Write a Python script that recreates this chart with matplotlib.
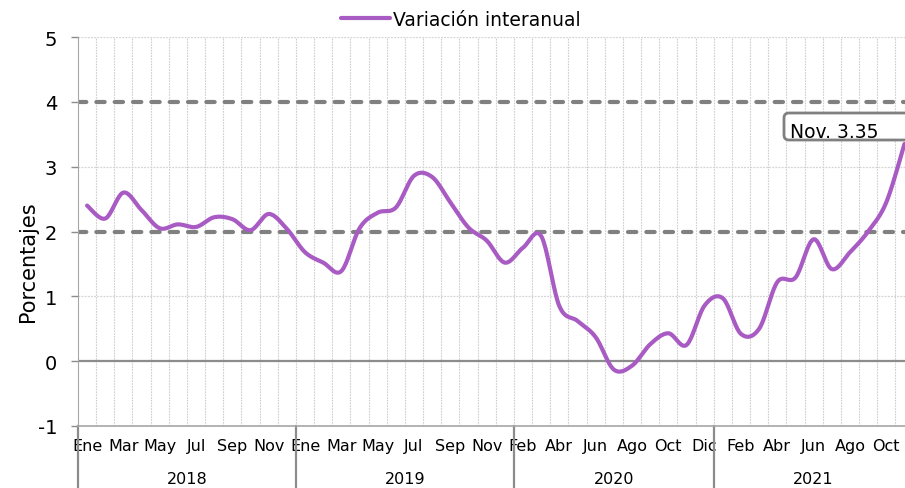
import numpy as np
import matplotlib
matplotlib.use("Agg")
import matplotlib.pyplot as plt
from matplotlib.patches import FancyBboxPatch
from matplotlib.transforms import blended_transform_factory

plt.rcParams['font.family'] = ['DejaVu Sans']

# meses por grupo (2020 empieza en Feb en la serie original)
meses_2018 = ["Ene", "Feb", "Mar", "Abr", "May", "Jun", "Jul", "Ago", "Sep", "Oct", "Nov", "Dic"]
meses_2019 = ["Ene", "Feb", "Mar", "Abr", "May", "Jun", "Jul", "Ago", "Sep", "Oct", "Nov", "Dic"]
meses_2020 = ["Feb", "Mar", "Abr", "May", "Jun", "Jul", "Ago", "Sep", "Oct", "Nov", "Dic"]
meses_2021 = ["Ene", "Feb", "Mar", "Abr", "May", "Jun", "Jul", "Ago", "Sep", "Oct", "Nov"]
anios = ["2018", "2019", "2020", "2021"]

var_2018 = [2.40, 2.20, 2.60, 2.33, 2.05, 2.11, 2.07, 2.22, 2.19, 2.02, 2.27, 2.04]
var_2019 = [1.68, 1.52, 1.39, 2.05, 2.29, 2.37, 2.86, 2.84, 2.45, 2.06, 1.86, 1.52]
var_2020 = [1.75, 1.93, 0.85, 0.62, 0.37, -0.13, -0.07, 0.26, 0.43, 0.25, 0.86]
var_2021 = [0.97, 0.42, 0.50, 1.22, 1.29, 1.88, 1.42, 1.68, 2.00, 2.45, 3.35]

grupos = [meses_2018, meses_2019, meses_2020, meses_2021]
meses = meses_2018 + meses_2019 + meses_2020 + meses_2021
valores = np.array(var_2018 + var_2019 + var_2020 + var_2021)
x = np.arange(len(valores))


# suavizado tipo Excel (catmull-rom)
def suavizar(xs, ys, n=20):
    p = np.concatenate([[ys[0]], ys, [ys[-1]]])
    q = np.concatenate([[xs[0]], xs, [xs[-1]]])
    xx, yy = [], []
    t = np.linspace(0, 1, n, endpoint=False)
    for i in range(1, len(p) - 2):
        for arr, out in ((q, xx), (p, yy)):
            m0 = (arr[i + 1] - arr[i - 1]) / 2
            m1 = (arr[i + 2] - arr[i]) / 2
            h00 = 2 * t**3 - 3 * t**2 + 1
            h10 = t**3 - 2 * t**2 + t
            h01 = -2 * t**3 + 3 * t**2
            h11 = t**3 - t**2
            out.extend(h00 * arr[i] + h10 * m0 + h01 * arr[i + 1] + h11 * m1)
    xx.append(xs[-1])
    yy.append(ys[-1])
    return np.array(xx), np.array(yy)


fig = plt.figure(figsize=(9.05, 4.89), dpi=100)
ax = fig.add_axes([78 / 905, 1 - 427 / 489, 827 / 905, 389 / 489])

xs, ys = suavizar(x.astype(float), valores)

# rejilla
for b in np.arange(0.5, len(valores) - 0.5, 1.0):
    ax.axvline(b, color="#cfcfcf", lw=0.8, ls=(0, (1.5, 1)), zorder=0)
for yv in [1, 3, 5]:
    ax.axhline(yv, color="#d4d4d4", lw=0.9, ls=(0, (1.5, 1)), zorder=0)
ax.axhline(0, color="#8c8c8c", lw=1.6, zorder=1)
for yv in [2, 4]:
    ax.axhline(yv, color="#808080", lw=3, ls=(0, (2.0, 2.4)),
               dash_capstyle="round", zorder=2)

linea, = ax.plot(xs, ys, color="#a95bc4", lw=3, solid_capstyle="round",
                 zorder=3, label="Variación interanual")

ax.set_xlim(-0.5, 45.03)
ax.set_ylim(-1, 5)
ax.set_yticks(range(-1, 6))
ax.set_yticklabels([str(v) for v in range(-1, 6)], fontsize=14)
ax.tick_params(axis="y", length=5, width=1, color="#8c8c8c", pad=10)

ax.set_xticks(x[::2])
ax.set_xticklabels(meses[::2], fontsize=11.5)
ax.tick_params(axis="x", length=0, pad=9)

for s in ["top", "right"]:
    ax.spines[s].set_visible(False)
ax.spines["left"].set_color("#a6a6a6")
ax.spines["bottom"].set_color("#a6a6a6")
ax.spines["bottom"].set_linewidth(1.2)

# separadores de anio y etiquetas
trans = blended_transform_factory(ax.transData, ax.transAxes)
inicio = -0.5
for anio, g in zip(anios, grupos):
    fin = inicio + len(g)
    ax.plot([inicio, inicio], [0, -0.17], color="#8c8c8c", lw=1.6,
            transform=trans, clip_on=False)
    ax.text((inicio + fin) / 2, -0.136, anio, transform=trans, ha="center",
            va="center", fontsize=11.5)
    inicio = fin

fig.text(28 / 905, 1 - 262 / 489, "Porcentajes", rotation=90, ha="center",
         va="center", fontsize=15)

fig.legend(handles=[linea], loc="center", bbox_to_anchor=(461 / 905, 1 - 20 / 489),
           frameon=False, fontsize=13.5, handlelength=2.6, handletextpad=0.2)

# etiqueta del ultimo dato
caja = FancyBboxPatch((7.84, 3.48), 1.30, 0.27,
                      boxstyle="round,pad=0,rounding_size=0.05",
                      transform=fig.dpi_scale_trans, facecolor="white",
                      edgecolor="#808080", lw=2, zorder=5)
fig.patches.append(caja)
fig.text(7.90, 3.56, f"{meses[-1]}. {valores[-1]:.2f}", transform=fig.dpi_scale_trans,
         ha="left", va="center", fontsize=13.5, zorder=6)

fig.savefig("out.png", dpi=100)
